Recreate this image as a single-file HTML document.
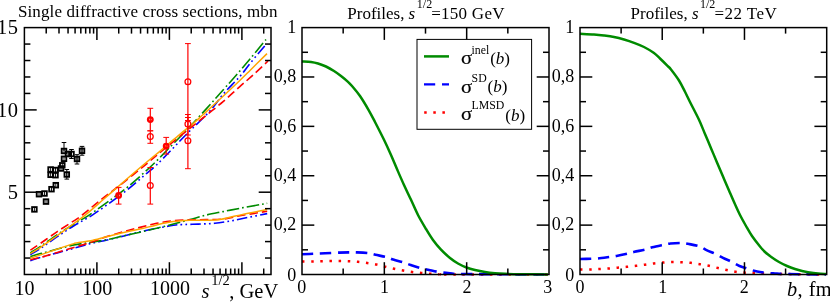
<!DOCTYPE html>
<html>
<head>
<meta charset="utf-8">
<title>Single diffractive cross sections and profiles</title>
<style>
html, body { margin: 0; padding: 0; background: #ffffff; }
body { width: 830px; height: 302px; overflow: hidden; }
svg { display: block; will-change: transform; }
svg text { font-family: "Liberation Serif", serif; fill: #000; }
</style>
</head>
<body>
<svg width="830" height="302" viewBox="0 0 830 302">
<rect x="0" y="0" width="830" height="302" fill="#ffffff"/>
<path d="M30.3,260.7 C32.02,260.15 36.1,258.7 40.6,257.4 C45.1,256.1 51.75,254.42 57.3,252.9 C62.85,251.38 68.37,249.85 73.9,248.3 C79.43,246.75 84.97,244.98 90.5,243.6 C96.03,242.22 101.55,241.27 107.1,240 C112.65,238.73 118.32,237.35 123.8,236 C129.28,234.65 134.53,233.18 140,231.9 C145.47,230.62 151.05,229.4 156.6,228.3 C162.15,227.2 169.13,225.92 173.3,225.3 C177.47,224.68 177.45,224.8 181.6,224.6 C185.75,224.4 192.67,224.32 198.2,224.1 C203.73,223.88 209.25,223.85 214.8,223.3 C220.35,222.75 225.95,221.78 231.5,220.8 C237.05,219.82 242.15,218.6 248.1,217.4 C254.05,216.2 264.02,214.23 267.2,213.6" fill="none" stroke="#0000ff" stroke-width="1.6" stroke-linecap="butt" stroke-linejoin="round" stroke-dasharray="10.5 3.2 1.7 3.2 1.7 3.2"/>
<path d="M30.3,254.6 C32.02,253.55 36.1,251.3 40.6,248.3 C45.1,245.3 51.75,240.35 57.3,236.6 C62.85,232.85 68,229.43 73.9,225.8 C79.8,222.17 86.42,218.83 92.7,214.8 C98.98,210.77 105.68,205.88 111.6,201.6 C117.52,197.32 122.67,193.53 128.2,189.1 C133.73,184.67 140.08,179.02 144.8,175 C149.52,170.98 152.03,169.22 156.5,165 C160.97,160.78 166.6,154.83 171.6,149.7 C176.6,144.57 180.27,140.48 186.5,134.2 C192.73,127.92 202.9,118.65 209,112 C215.1,105.35 217.97,100.22 223.1,94.3 C228.23,88.38 235.32,81.63 239.8,76.5 C244.28,71.37 245.8,68.65 250,63.5 C254.2,58.35 262.5,48.58 265,45.6" fill="none" stroke="#0000ff" stroke-width="1.6" stroke-linecap="butt" stroke-linejoin="round" stroke-dasharray="10.5 3.2 1.7 3.2 1.7 3.2"/>
<path d="M30.3,256.6 C32.02,256.1 36.1,254.85 40.6,253.6 C45.1,252.35 51.75,250.55 57.3,249.1 C62.85,247.65 68.37,246.02 73.9,244.9 C79.43,243.78 84.97,243.28 90.5,242.4 C96.03,241.52 101.55,240.7 107.1,239.6 C112.65,238.5 118.32,237.03 123.8,235.8 C129.28,234.57 134.53,233.45 140,232.2 C145.47,230.95 151.05,229.65 156.6,228.3 C162.15,226.95 167.75,225.55 173.3,224.1 C178.85,222.65 184.37,221.12 189.9,219.6 C195.43,218.08 200.97,216.33 206.5,215 C212.03,213.67 217.55,212.72 223.1,211.6 C228.65,210.48 234.25,209.35 239.8,208.3 C245.35,207.25 251.83,206.13 256.4,205.3 C260.97,204.47 265.4,203.63 267.2,203.3" fill="none" stroke="#008b00" stroke-width="1.6" stroke-linecap="butt" stroke-linejoin="round" stroke-dasharray="12.5 3 1.7 3"/>
<path d="M30.3,252.9 C32.02,251.8 36.1,249.35 40.6,246.3 C45.1,243.25 51.75,238.3 57.3,234.6 C62.85,230.9 68.53,227.4 73.9,224.1 C79.27,220.8 83.22,218.97 89.5,214.8 C95.78,210.63 105.15,203.8 111.6,199.1 C118.05,194.4 121.4,192.28 128.2,186.6 C135,180.92 145.17,171.85 152.4,165 C159.63,158.15 165.92,151.3 171.6,145.5 C177.28,139.7 180.68,136.35 186.5,130.2 C192.32,124.05 200.4,115.3 206.5,108.6 C212.6,101.9 218.12,95.6 223.1,90 C228.08,84.4 231.92,80.17 236.4,75 C240.88,69.83 245.07,64.92 250,59 C254.93,53.08 263.33,42.75 266,39.5" fill="none" stroke="#008b00" stroke-width="1.6" stroke-linecap="butt" stroke-linejoin="round" stroke-dasharray="12.5 3 1.7 3"/>
<path d="M30.3,259.6 C32.02,259.23 36.1,258.6 40.6,257.4 C45.1,256.2 51.75,254.07 57.3,252.4 C62.85,250.73 68.37,249.07 73.9,247.4 C79.43,245.73 84.97,244.2 90.5,242.4 C96.03,240.6 101.55,238.4 107.1,236.6 C112.65,234.8 118.32,233.13 123.8,231.6 C129.28,230.07 134.53,228.78 140,227.4 C145.47,226.02 151.05,224.4 156.6,223.3 C162.15,222.2 167.73,221.37 173.3,220.8 C178.87,220.23 184.47,220.1 190,219.9 C195.53,219.7 200.98,219.73 206.5,219.6 C212.02,219.47 217.55,219.73 223.1,219.1 C228.65,218.47 234.25,216.82 239.8,215.8 C245.35,214.78 251.83,213.75 256.4,213 C260.97,212.25 265.4,211.58 267.2,211.3" fill="none" stroke="#ff0000" stroke-width="1.6" stroke-linecap="butt" stroke-linejoin="round" stroke-dasharray="8.5 4"/>
<path d="M30.3,250.2 C32.02,249.05 36.1,246.4 40.6,243.3 C45.1,240.2 51.75,235.35 57.3,231.6 C62.85,227.85 69.75,223.57 73.9,220.8 C78.05,218.03 77.85,218.38 82.2,215 C86.55,211.62 93.7,205.47 100,200.5 C106.3,195.53 112.53,191.07 120,185.2 C127.47,179.33 137.3,171.42 144.8,165.3 C152.3,159.18 158.05,154.22 165,148.5 C171.95,142.78 179.87,136.33 186.5,131 C193.13,125.67 198.7,121.4 204.8,116.5 C210.9,111.6 217.27,106.58 223.1,101.6 C228.93,96.62 234.8,91.03 239.8,86.6 C244.8,82.17 248.4,79.27 253.1,75 C257.8,70.73 265.52,63.33 268,61" fill="none" stroke="#ff0000" stroke-width="1.6" stroke-linecap="butt" stroke-linejoin="round" stroke-dasharray="8.5 4"/>
<path d="M30.3,258.2 C32.02,257.65 36.1,256.42 40.6,254.9 C45.1,253.38 51.75,250.98 57.3,249.1 C62.85,247.22 70.3,244.72 73.9,243.6 C77.5,242.48 76.13,242.87 78.9,242.4 C81.67,241.93 85.8,241.77 90.5,240.8 C95.2,239.83 101.55,237.98 107.1,236.6 C112.65,235.22 118.32,233.75 123.8,232.5 C129.28,231.25 134.53,230.37 140,229.1 C145.47,227.83 151.05,226.15 156.6,224.9 C162.15,223.65 167.75,222.37 173.3,221.6 C178.85,220.83 184.37,220.52 189.9,220.3 C195.43,220.08 201.52,220.42 206.5,220.3 C211.48,220.18 215.37,220.22 219.8,219.6 C224.23,218.98 228.12,217.7 233.1,216.6 C238.08,215.5 244.02,214.17 249.7,213 C255.38,211.83 264.28,210.17 267.2,209.6" fill="none" stroke="#ffa500" stroke-width="1.5" stroke-linecap="butt" stroke-linejoin="round"/>
<path d="M30.3,253.6 C32.02,252.57 36.1,250.42 40.6,247.4 C45.1,244.38 51.75,239.48 57.3,235.5 C62.85,231.52 69.15,226.98 73.9,223.5 C78.65,220.02 80.9,218.6 85.8,214.6 C90.7,210.6 97.62,204.43 103.3,199.5 C108.98,194.57 113.25,190.75 119.9,185 C126.55,179.25 135.97,171.12 143.2,165 C150.43,158.88 157.18,153.42 163.3,148.3 C169.42,143.18 174.92,138.43 179.9,134.3 C184.88,130.17 189.32,126.8 193.2,123.5 C197.08,120.2 198.22,119.03 203.2,114.5 C208.18,109.97 217,101.97 223.1,96.3 C229.2,90.63 235.32,84.8 239.8,80.5 C244.28,76.2 245.47,74.98 250,70.5 C254.53,66.02 264.17,56.42 267,53.6" fill="none" stroke="#ffa500" stroke-width="1.5" stroke-linecap="butt" stroke-linejoin="round"/>
<line x1="34.4" y1="207.2" x2="34.4" y2="211.6" stroke="#000" stroke-width="0.9" />
<rect x="32.1" y="207.1" width="4.6" height="4.6" fill="none" stroke="#000" stroke-width="1.85"/>
<line x1="62.3" y1="163.1" x2="62.3" y2="167.5" stroke="#000" stroke-width="0.9" />
<rect x="60" y="163" width="4.6" height="4.6" fill="none" stroke="#000" stroke-width="1.85"/>
<line x1="39" y1="192" x2="39" y2="196.4" stroke="#000" stroke-width="0.9" />
<rect x="36.7" y="191.9" width="4.6" height="4.6" fill="none" stroke="#000" stroke-width="1.85"/>
<line x1="44.5" y1="191.3" x2="44.5" y2="195.7" stroke="#000" stroke-width="0.9" />
<rect x="42.2" y="191.2" width="4.6" height="4.6" fill="none" stroke="#000" stroke-width="1.85"/>
<line x1="46" y1="199.4" x2="46" y2="203.8" stroke="#000" stroke-width="0.9" />
<rect x="43.7" y="199.3" width="4.6" height="4.6" fill="none" stroke="#000" stroke-width="1.85"/>
<line x1="51.5" y1="187" x2="51.5" y2="191.4" stroke="#000" stroke-width="0.9" />
<rect x="49.2" y="186.9" width="4.6" height="4.6" fill="none" stroke="#000" stroke-width="1.85"/>
<line x1="55.8" y1="183" x2="55.8" y2="187.4" stroke="#000" stroke-width="0.9" />
<rect x="53.5" y="182.9" width="4.6" height="4.6" fill="none" stroke="#000" stroke-width="1.85"/>
<line x1="50.6" y1="167.3" x2="50.6" y2="171.7" stroke="#000" stroke-width="0.9" />
<rect x="48.3" y="167.2" width="4.6" height="4.6" fill="none" stroke="#000" stroke-width="1.85"/>
<line x1="50.6" y1="172.6" x2="50.6" y2="177" stroke="#000" stroke-width="0.9" />
<rect x="48.3" y="172.5" width="4.6" height="4.6" fill="none" stroke="#000" stroke-width="1.85"/>
<line x1="55.5" y1="167.8" x2="55.5" y2="172.2" stroke="#000" stroke-width="0.9" />
<rect x="53.2" y="167.7" width="4.6" height="4.6" fill="none" stroke="#000" stroke-width="1.85"/>
<line x1="55.5" y1="173" x2="55.5" y2="177.4" stroke="#000" stroke-width="0.9" />
<rect x="53.2" y="172.9" width="4.6" height="4.6" fill="none" stroke="#000" stroke-width="1.85"/>
<line x1="61" y1="166.3" x2="61" y2="170.7" stroke="#000" stroke-width="0.9" />
<rect x="58.7" y="166.2" width="4.6" height="4.6" fill="none" stroke="#000" stroke-width="1.85"/>
<line x1="66.8" y1="169.5" x2="66.8" y2="174.5" stroke="#000" stroke-width="1" />
<line x1="64.5" y1="169.5" x2="69.1" y2="169.5" stroke="#000" stroke-width="1" />
<line x1="66.8" y1="174.5" x2="66.8" y2="179.1" stroke="#000" stroke-width="1" />
<line x1="64.5" y1="179.1" x2="69.1" y2="179.1" stroke="#000" stroke-width="1" />
<line x1="66.8" y1="172.3" x2="66.8" y2="176.7" stroke="#000" stroke-width="0.9" />
<rect x="64.5" y="172.2" width="4.6" height="4.6" fill="none" stroke="#000" stroke-width="1.85"/>
<line x1="64" y1="142.5" x2="64" y2="151" stroke="#000" stroke-width="1" />
<line x1="61.7" y1="142.5" x2="66.3" y2="142.5" stroke="#000" stroke-width="1" />
<line x1="64" y1="148.8" x2="64" y2="153.2" stroke="#000" stroke-width="0.9" />
<rect x="61.7" y="148.7" width="4.6" height="4.6" fill="none" stroke="#000" stroke-width="1.85"/>
<line x1="64" y1="156.6" x2="64" y2="161" stroke="#000" stroke-width="0.9" />
<rect x="61.7" y="156.5" width="4.6" height="4.6" fill="none" stroke="#000" stroke-width="1.85"/>
<line x1="68" y1="151.8" x2="68" y2="156.2" stroke="#000" stroke-width="0.9" />
<rect x="65.7" y="151.7" width="4.6" height="4.6" fill="none" stroke="#000" stroke-width="1.85"/>
<line x1="71.5" y1="149.5" x2="71.5" y2="154" stroke="#000" stroke-width="1" />
<line x1="69.2" y1="149.5" x2="73.8" y2="149.5" stroke="#000" stroke-width="1" />
<line x1="71.5" y1="154" x2="71.5" y2="158.5" stroke="#000" stroke-width="1" />
<line x1="69.2" y1="158.5" x2="73.8" y2="158.5" stroke="#000" stroke-width="1" />
<line x1="71.5" y1="151.8" x2="71.5" y2="156.2" stroke="#000" stroke-width="0.9" />
<rect x="69.2" y="151.7" width="4.6" height="4.6" fill="none" stroke="#000" stroke-width="1.85"/>
<line x1="77" y1="154.7" x2="77" y2="159" stroke="#000" stroke-width="1" />
<line x1="74.7" y1="154.7" x2="79.3" y2="154.7" stroke="#000" stroke-width="1" />
<line x1="77" y1="159" x2="77" y2="164" stroke="#000" stroke-width="1" />
<line x1="74.7" y1="164" x2="79.3" y2="164" stroke="#000" stroke-width="1" />
<line x1="77" y1="156.8" x2="77" y2="161.2" stroke="#000" stroke-width="0.9" />
<rect x="74.7" y="156.7" width="4.6" height="4.6" fill="none" stroke="#000" stroke-width="1.85"/>
<line x1="82" y1="146.4" x2="82" y2="150.8" stroke="#000" stroke-width="1" />
<line x1="79.7" y1="146.4" x2="84.3" y2="146.4" stroke="#000" stroke-width="1" />
<line x1="82" y1="150.8" x2="82" y2="155.2" stroke="#000" stroke-width="1" />
<line x1="79.7" y1="155.2" x2="84.3" y2="155.2" stroke="#000" stroke-width="1" />
<line x1="82" y1="148.6" x2="82" y2="153" stroke="#000" stroke-width="0.9" />
<rect x="79.7" y="148.5" width="4.6" height="4.6" fill="none" stroke="#000" stroke-width="1.85"/>
<line x1="118.6" y1="187.4" x2="118.6" y2="204.1" stroke="#ff0000" stroke-width="1.2" />
<line x1="115.7" y1="187.4" x2="121.5" y2="187.4" stroke="#ff0000" stroke-width="1" />
<line x1="115.7" y1="204.1" x2="121.5" y2="204.1" stroke="#ff0000" stroke-width="1" />
<circle cx="118.6" cy="195.4" r="2.3" fill="none" stroke="#ff0000" stroke-width="2.3"/>
<line x1="150.3" y1="167.5" x2="150.3" y2="204.1" stroke="#ff0000" stroke-width="1.2" />
<line x1="147.4" y1="167.5" x2="153.2" y2="167.5" stroke="#ff0000" stroke-width="1" />
<line x1="147.4" y1="204.1" x2="153.2" y2="204.1" stroke="#ff0000" stroke-width="1" />
<circle cx="150.3" cy="185.5" r="2.9" fill="none" stroke="#ff0000" stroke-width="1.25"/>
<line x1="150.3" y1="108.3" x2="150.3" y2="130.8" stroke="#ff0000" stroke-width="1.2" />
<line x1="147.4" y1="108.3" x2="153.2" y2="108.3" stroke="#ff0000" stroke-width="1" />
<line x1="147.4" y1="130.8" x2="153.2" y2="130.8" stroke="#ff0000" stroke-width="1" />
<circle cx="150.3" cy="119.6" r="2.3" fill="none" stroke="#ff0000" stroke-width="2.3"/>
<line x1="150.3" y1="130.8" x2="150.3" y2="143.3" stroke="#ff0000" stroke-width="1.2" />
<line x1="147.4" y1="130.8" x2="153.2" y2="130.8" stroke="#ff0000" stroke-width="1" />
<line x1="147.4" y1="143.3" x2="153.2" y2="143.3" stroke="#ff0000" stroke-width="1" />
<circle cx="150.3" cy="136.6" r="2.9" fill="none" stroke="#ff0000" stroke-width="1.25"/>
<line x1="166.2" y1="137.4" x2="166.2" y2="154.1" stroke="#ff0000" stroke-width="1.2" />
<line x1="163.3" y1="137.4" x2="169.1" y2="137.4" stroke="#ff0000" stroke-width="1" />
<line x1="163.3" y1="154.1" x2="169.1" y2="154.1" stroke="#ff0000" stroke-width="1" />
<circle cx="166.2" cy="146.1" r="2.3" fill="none" stroke="#ff0000" stroke-width="2.3"/>
<line x1="187.9" y1="43.6" x2="187.9" y2="120.5" stroke="#ff0000" stroke-width="1.2" />
<line x1="185" y1="43.6" x2="190.8" y2="43.6" stroke="#ff0000" stroke-width="1" />
<line x1="185" y1="120.5" x2="190.8" y2="120.5" stroke="#ff0000" stroke-width="1" />
<circle cx="187.9" cy="81.7" r="2.9" fill="none" stroke="#ff0000" stroke-width="1.25"/>
<line x1="187.9" y1="114.5" x2="187.9" y2="135" stroke="#ff0000" stroke-width="1.2" />
<line x1="185" y1="114.5" x2="190.8" y2="114.5" stroke="#ff0000" stroke-width="1" />
<line x1="185" y1="135" x2="190.8" y2="135" stroke="#ff0000" stroke-width="1" />
<circle cx="187.9" cy="124.1" r="2.9" fill="none" stroke="#ff0000" stroke-width="1.25"/>
<line x1="187.9" y1="117.5" x2="187.9" y2="168.7" stroke="#ff0000" stroke-width="1.2" />
<line x1="185" y1="117.5" x2="190.8" y2="117.5" stroke="#ff0000" stroke-width="1" />
<line x1="185" y1="168.7" x2="190.8" y2="168.7" stroke="#ff0000" stroke-width="1" />
<circle cx="187.9" cy="140.8" r="2.9" fill="none" stroke="#ff0000" stroke-width="1.25"/>
<rect x="24.4" y="27.6" width="246.6" height="246.9" fill="none" stroke="#000" stroke-width="1.5"/>
<line x1="46.22" y1="274.5" x2="46.22" y2="268.5" stroke="#000" stroke-width="1.5" />
<line x1="46.22" y1="27.6" x2="46.22" y2="33.6" stroke="#000" stroke-width="1.5" />
<line x1="58.99" y1="274.5" x2="58.99" y2="268.5" stroke="#000" stroke-width="1.5" />
<line x1="58.99" y1="27.6" x2="58.99" y2="33.6" stroke="#000" stroke-width="1.5" />
<line x1="68.05" y1="274.5" x2="68.05" y2="268.5" stroke="#000" stroke-width="1.5" />
<line x1="68.05" y1="27.6" x2="68.05" y2="33.6" stroke="#000" stroke-width="1.5" />
<line x1="75.08" y1="274.5" x2="75.08" y2="268.5" stroke="#000" stroke-width="1.5" />
<line x1="75.08" y1="27.6" x2="75.08" y2="33.6" stroke="#000" stroke-width="1.5" />
<line x1="80.82" y1="274.5" x2="80.82" y2="268.5" stroke="#000" stroke-width="1.5" />
<line x1="80.82" y1="27.6" x2="80.82" y2="33.6" stroke="#000" stroke-width="1.5" />
<line x1="85.67" y1="274.5" x2="85.67" y2="268.5" stroke="#000" stroke-width="1.5" />
<line x1="85.67" y1="27.6" x2="85.67" y2="33.6" stroke="#000" stroke-width="1.5" />
<line x1="89.87" y1="274.5" x2="89.87" y2="268.5" stroke="#000" stroke-width="1.5" />
<line x1="89.87" y1="27.6" x2="89.87" y2="33.6" stroke="#000" stroke-width="1.5" />
<line x1="93.58" y1="274.5" x2="93.58" y2="268.5" stroke="#000" stroke-width="1.5" />
<line x1="93.58" y1="27.6" x2="93.58" y2="33.6" stroke="#000" stroke-width="1.5" />
<line x1="96.9" y1="274.5" x2="96.9" y2="262.2" stroke="#000" stroke-width="1.5" />
<line x1="96.9" y1="27.6" x2="96.9" y2="39.9" stroke="#000" stroke-width="1.5" />
<line x1="118.72" y1="274.5" x2="118.72" y2="268.5" stroke="#000" stroke-width="1.5" />
<line x1="118.72" y1="27.6" x2="118.72" y2="33.6" stroke="#000" stroke-width="1.5" />
<line x1="131.49" y1="274.5" x2="131.49" y2="268.5" stroke="#000" stroke-width="1.5" />
<line x1="131.49" y1="27.6" x2="131.49" y2="33.6" stroke="#000" stroke-width="1.5" />
<line x1="140.55" y1="274.5" x2="140.55" y2="268.5" stroke="#000" stroke-width="1.5" />
<line x1="140.55" y1="27.6" x2="140.55" y2="33.6" stroke="#000" stroke-width="1.5" />
<line x1="147.58" y1="274.5" x2="147.58" y2="268.5" stroke="#000" stroke-width="1.5" />
<line x1="147.58" y1="27.6" x2="147.58" y2="33.6" stroke="#000" stroke-width="1.5" />
<line x1="153.32" y1="274.5" x2="153.32" y2="268.5" stroke="#000" stroke-width="1.5" />
<line x1="153.32" y1="27.6" x2="153.32" y2="33.6" stroke="#000" stroke-width="1.5" />
<line x1="158.17" y1="274.5" x2="158.17" y2="268.5" stroke="#000" stroke-width="1.5" />
<line x1="158.17" y1="27.6" x2="158.17" y2="33.6" stroke="#000" stroke-width="1.5" />
<line x1="162.37" y1="274.5" x2="162.37" y2="268.5" stroke="#000" stroke-width="1.5" />
<line x1="162.37" y1="27.6" x2="162.37" y2="33.6" stroke="#000" stroke-width="1.5" />
<line x1="166.08" y1="274.5" x2="166.08" y2="268.5" stroke="#000" stroke-width="1.5" />
<line x1="166.08" y1="27.6" x2="166.08" y2="33.6" stroke="#000" stroke-width="1.5" />
<line x1="169.4" y1="274.5" x2="169.4" y2="262.2" stroke="#000" stroke-width="1.5" />
<line x1="169.4" y1="27.6" x2="169.4" y2="39.9" stroke="#000" stroke-width="1.5" />
<line x1="191.22" y1="274.5" x2="191.22" y2="268.5" stroke="#000" stroke-width="1.5" />
<line x1="191.22" y1="27.6" x2="191.22" y2="33.6" stroke="#000" stroke-width="1.5" />
<line x1="203.99" y1="274.5" x2="203.99" y2="268.5" stroke="#000" stroke-width="1.5" />
<line x1="203.99" y1="27.6" x2="203.99" y2="33.6" stroke="#000" stroke-width="1.5" />
<line x1="213.05" y1="274.5" x2="213.05" y2="268.5" stroke="#000" stroke-width="1.5" />
<line x1="213.05" y1="27.6" x2="213.05" y2="33.6" stroke="#000" stroke-width="1.5" />
<line x1="220.08" y1="274.5" x2="220.08" y2="268.5" stroke="#000" stroke-width="1.5" />
<line x1="220.08" y1="27.6" x2="220.08" y2="33.6" stroke="#000" stroke-width="1.5" />
<line x1="225.82" y1="274.5" x2="225.82" y2="268.5" stroke="#000" stroke-width="1.5" />
<line x1="225.82" y1="27.6" x2="225.82" y2="33.6" stroke="#000" stroke-width="1.5" />
<line x1="230.67" y1="274.5" x2="230.67" y2="268.5" stroke="#000" stroke-width="1.5" />
<line x1="230.67" y1="27.6" x2="230.67" y2="33.6" stroke="#000" stroke-width="1.5" />
<line x1="234.87" y1="274.5" x2="234.87" y2="268.5" stroke="#000" stroke-width="1.5" />
<line x1="234.87" y1="27.6" x2="234.87" y2="33.6" stroke="#000" stroke-width="1.5" />
<line x1="238.58" y1="274.5" x2="238.58" y2="268.5" stroke="#000" stroke-width="1.5" />
<line x1="238.58" y1="27.6" x2="238.58" y2="33.6" stroke="#000" stroke-width="1.5" />
<line x1="241.9" y1="274.5" x2="241.9" y2="262.2" stroke="#000" stroke-width="1.5" />
<line x1="241.9" y1="27.6" x2="241.9" y2="39.9" stroke="#000" stroke-width="1.5" />
<line x1="263.72" y1="274.5" x2="263.72" y2="268.5" stroke="#000" stroke-width="1.5" />
<line x1="263.72" y1="27.6" x2="263.72" y2="33.6" stroke="#000" stroke-width="1.5" />
<line x1="24.4" y1="258.04" x2="30.4" y2="258.04" stroke="#000" stroke-width="1.5" />
<line x1="271" y1="258.04" x2="265" y2="258.04" stroke="#000" stroke-width="1.5" />
<line x1="24.4" y1="241.58" x2="30.4" y2="241.58" stroke="#000" stroke-width="1.5" />
<line x1="271" y1="241.58" x2="265" y2="241.58" stroke="#000" stroke-width="1.5" />
<line x1="24.4" y1="225.12" x2="30.4" y2="225.12" stroke="#000" stroke-width="1.5" />
<line x1="271" y1="225.12" x2="265" y2="225.12" stroke="#000" stroke-width="1.5" />
<line x1="24.4" y1="208.66" x2="30.4" y2="208.66" stroke="#000" stroke-width="1.5" />
<line x1="271" y1="208.66" x2="265" y2="208.66" stroke="#000" stroke-width="1.5" />
<line x1="24.4" y1="192.2" x2="36.7" y2="192.2" stroke="#000" stroke-width="1.5" />
<line x1="271" y1="192.2" x2="258.7" y2="192.2" stroke="#000" stroke-width="1.5" />
<line x1="24.4" y1="175.74" x2="30.4" y2="175.74" stroke="#000" stroke-width="1.5" />
<line x1="271" y1="175.74" x2="265" y2="175.74" stroke="#000" stroke-width="1.5" />
<line x1="24.4" y1="159.28" x2="30.4" y2="159.28" stroke="#000" stroke-width="1.5" />
<line x1="271" y1="159.28" x2="265" y2="159.28" stroke="#000" stroke-width="1.5" />
<line x1="24.4" y1="142.82" x2="30.4" y2="142.82" stroke="#000" stroke-width="1.5" />
<line x1="271" y1="142.82" x2="265" y2="142.82" stroke="#000" stroke-width="1.5" />
<line x1="24.4" y1="126.36" x2="30.4" y2="126.36" stroke="#000" stroke-width="1.5" />
<line x1="271" y1="126.36" x2="265" y2="126.36" stroke="#000" stroke-width="1.5" />
<line x1="24.4" y1="109.9" x2="36.7" y2="109.9" stroke="#000" stroke-width="1.5" />
<line x1="271" y1="109.9" x2="258.7" y2="109.9" stroke="#000" stroke-width="1.5" />
<line x1="24.4" y1="93.44" x2="30.4" y2="93.44" stroke="#000" stroke-width="1.5" />
<line x1="271" y1="93.44" x2="265" y2="93.44" stroke="#000" stroke-width="1.5" />
<line x1="24.4" y1="76.98" x2="30.4" y2="76.98" stroke="#000" stroke-width="1.5" />
<line x1="271" y1="76.98" x2="265" y2="76.98" stroke="#000" stroke-width="1.5" />
<line x1="24.4" y1="60.52" x2="30.4" y2="60.52" stroke="#000" stroke-width="1.5" />
<line x1="271" y1="60.52" x2="265" y2="60.52" stroke="#000" stroke-width="1.5" />
<line x1="24.4" y1="44.06" x2="30.4" y2="44.06" stroke="#000" stroke-width="1.5" />
<line x1="271" y1="44.06" x2="265" y2="44.06" stroke="#000" stroke-width="1.5" />
<text x="18.3" y="34.4" font-size="20.5" text-anchor="end" letter-spacing="0.4">15</text>
<text x="18.3" y="116.8" font-size="20.5" text-anchor="end" letter-spacing="0.4">10</text>
<text x="17.9" y="199.1" font-size="20.5" text-anchor="end" >5</text>
<text x="24.6" y="294.5" font-size="20" text-anchor="middle" >10</text>
<text x="97.2" y="294.5" font-size="20" text-anchor="middle" >100</text>
<text x="170" y="294.5" font-size="20" text-anchor="middle" >1000</text>
<text x="17.9" y="17.2" font-size="17" text-anchor="start" letter-spacing="0.12">Single diffractive cross sections, mbn</text>
<text x="201.6" y="297.5" font-size="20.5" text-anchor="start" font-style="italic">s</text>
<text x="211.2" y="284.9" font-size="14.5" text-anchor="start" >1/2</text>
<text x="229.3" y="297.5" font-size="20.5" text-anchor="start" >, GeV</text>
<path d="M302,261.5 C303.7,261.5 309,261.55 312.2,261.5 C315.4,261.45 318.15,261.28 321.2,261.2 C324.25,261.12 327.4,261.03 330.5,261 C333.6,260.97 336.72,260.97 339.8,261 C342.88,261.03 345.97,261.07 349,261.2 C352.03,261.33 354.97,261.5 358,261.8 C361.03,262.1 364.13,262.55 367.2,263 C370.27,263.45 373.4,263.88 376.4,264.5 C379.4,265.12 382.23,265.98 385.2,266.7 C388.17,267.42 391.2,268.17 394.2,268.8 C397.2,269.43 400.2,269.97 403.2,270.5 C406.2,271.03 409.15,271.58 412.2,272 C415.25,272.42 418.45,272.7 421.5,273 C424.55,273.3 427.47,273.58 430.5,273.8 C433.53,274.02 436.62,274.18 439.7,274.3 C442.78,274.42 430.95,274.47 449,274.5 C467.05,274.53 531.5,274.5 548,274.5" fill="none" stroke="#ff0000" stroke-width="2.5" stroke-linecap="butt" stroke-linejoin="round" stroke-dasharray="2.5 6.65"/>
<path d="M302,254.2 C303.83,254.13 309.17,253.95 313,253.8 C316.83,253.65 320.67,253.5 325,253.3 C329.33,253.1 334.83,252.75 339,252.6 C343.17,252.45 347,252.43 350,252.4 C353,252.37 353.92,252.27 357,252.4 C360.08,252.53 365.42,252.8 368.5,253.2 C371.58,253.6 372.42,254.13 375.5,254.8 C378.58,255.47 384.05,256.42 387,257.2 C389.95,257.98 390.28,258.57 393.2,259.5 C396.12,260.43 401.57,261.88 404.5,262.8 C407.43,263.72 407.88,264.05 410.8,265 C413.72,265.95 418.97,267.67 422,268.5 C425.03,269.33 426,269.38 429,270 C432,270.62 436.5,271.67 440,272.2 C443.5,272.73 445.83,272.9 450,273.2 C454.17,273.5 448.67,273.78 465,274 C481.33,274.22 534.17,274.42 548,274.5" fill="none" stroke="#0000ff" stroke-width="2.6" stroke-linecap="butt" stroke-linejoin="round" stroke-dasharray="11.2 6.8"/>
<path d="M302,61.4 C303.5,61.5 308.33,61.65 311,62 C313.67,62.35 315.5,62.75 318,63.5 C320.5,64.25 323.33,65.25 326,66.5 C328.67,67.75 331.5,69.42 334,71 C336.5,72.58 338.67,74.2 341,76 C343.33,77.8 346.17,80.13 348,81.8 C349.83,83.47 350,83.63 352,86 C354,88.37 357.25,92.03 360,96 C362.75,99.97 366,105.47 368.5,109.8 C371,114.13 372.42,117 375,122 C377.58,127 381.33,134.3 384,139.8 C386.67,145.3 388.78,150 391,155 C393.22,160 395.13,164.8 397.3,169.8 C399.47,174.8 401.72,180 404,185 C406.28,190 408.67,194.8 411,199.8 C413.33,204.8 415.5,210.13 418,215 C420.5,219.87 423.5,224.83 426,229 C428.5,233.17 430.5,236.55 433,240 C435.5,243.45 438.17,246.7 441,249.7 C443.83,252.7 447.17,255.7 450,258 C452.83,260.3 455.25,261.92 458,263.5 C460.75,265.08 463.67,266.42 466.5,267.5 C469.33,268.58 471.92,269.25 475,270 C478.08,270.75 481.67,271.47 485,272 C488.33,272.53 491.67,272.9 495,273.2 C498.33,273.5 500.83,273.63 505,273.8 C509.17,273.97 512.83,274.08 520,274.2 C527.17,274.32 543.33,274.45 548,274.5" fill="none" stroke="#008b00" stroke-width="2.5" stroke-linecap="butt" stroke-linejoin="round"/>
<rect x="302" y="27.6" width="247" height="246.9" fill="none" stroke="#000" stroke-width="1.5"/>
<line x1="343.17" y1="274.5" x2="343.17" y2="268.5" stroke="#000" stroke-width="1.5" />
<line x1="343.17" y1="27.6" x2="343.17" y2="33.6" stroke="#000" stroke-width="1.5" />
<line x1="384.33" y1="274.5" x2="384.33" y2="262.2" stroke="#000" stroke-width="1.5" />
<line x1="384.33" y1="27.6" x2="384.33" y2="39.9" stroke="#000" stroke-width="1.5" />
<line x1="425.5" y1="274.5" x2="425.5" y2="268.5" stroke="#000" stroke-width="1.5" />
<line x1="425.5" y1="27.6" x2="425.5" y2="33.6" stroke="#000" stroke-width="1.5" />
<line x1="466.67" y1="274.5" x2="466.67" y2="262.2" stroke="#000" stroke-width="1.5" />
<line x1="466.67" y1="27.6" x2="466.67" y2="39.9" stroke="#000" stroke-width="1.5" />
<line x1="507.83" y1="274.5" x2="507.83" y2="268.5" stroke="#000" stroke-width="1.5" />
<line x1="507.83" y1="27.6" x2="507.83" y2="33.6" stroke="#000" stroke-width="1.5" />
<line x1="302" y1="249.81" x2="308" y2="249.81" stroke="#000" stroke-width="1.5" />
<line x1="549" y1="249.81" x2="543" y2="249.81" stroke="#000" stroke-width="1.5" />
<line x1="302" y1="225.12" x2="314.3" y2="225.12" stroke="#000" stroke-width="1.5" />
<line x1="549" y1="225.12" x2="536.7" y2="225.12" stroke="#000" stroke-width="1.5" />
<line x1="302" y1="200.43" x2="308" y2="200.43" stroke="#000" stroke-width="1.5" />
<line x1="549" y1="200.43" x2="543" y2="200.43" stroke="#000" stroke-width="1.5" />
<line x1="302" y1="175.74" x2="314.3" y2="175.74" stroke="#000" stroke-width="1.5" />
<line x1="549" y1="175.74" x2="536.7" y2="175.74" stroke="#000" stroke-width="1.5" />
<line x1="302" y1="151.05" x2="308" y2="151.05" stroke="#000" stroke-width="1.5" />
<line x1="549" y1="151.05" x2="543" y2="151.05" stroke="#000" stroke-width="1.5" />
<line x1="302" y1="126.36" x2="314.3" y2="126.36" stroke="#000" stroke-width="1.5" />
<line x1="549" y1="126.36" x2="536.7" y2="126.36" stroke="#000" stroke-width="1.5" />
<line x1="302" y1="101.67" x2="308" y2="101.67" stroke="#000" stroke-width="1.5" />
<line x1="549" y1="101.67" x2="543" y2="101.67" stroke="#000" stroke-width="1.5" />
<line x1="302" y1="76.98" x2="314.3" y2="76.98" stroke="#000" stroke-width="1.5" />
<line x1="549" y1="76.98" x2="536.7" y2="76.98" stroke="#000" stroke-width="1.5" />
<line x1="302" y1="52.29" x2="308" y2="52.29" stroke="#000" stroke-width="1.5" />
<line x1="549" y1="52.29" x2="543" y2="52.29" stroke="#000" stroke-width="1.5" />
<text x="296.3" y="280.6" font-size="18" text-anchor="end" >0</text>
<text x="296.3" y="230.42" font-size="18" text-anchor="end" >0,2</text>
<text x="296.3" y="181.04" font-size="18" text-anchor="end" >0,4</text>
<text x="296.3" y="131.66" font-size="18" text-anchor="end" >0,6</text>
<text x="296.3" y="82.28" font-size="18" text-anchor="end" >0,8</text>
<text x="296.3" y="32.9" font-size="18" text-anchor="end" >1</text>
<text x="301.8" y="292.8" font-size="18" text-anchor="middle" >0</text>
<text x="384.6" y="292.8" font-size="18" text-anchor="middle" >1</text>
<text x="466.9" y="292.8" font-size="18" text-anchor="middle" >2</text>
<text x="547.8" y="292.8" font-size="18" text-anchor="middle" >3</text>
<text x="347.3" y="19" font-size="17" text-anchor="start" >Profiles,</text>
<text x="408.4" y="19" font-size="17" text-anchor="start" font-style="italic">s</text>
<text x="416.8" y="8.3" font-size="12" text-anchor="start" >1/2</text>
<text x="431.2" y="19" font-size="17" text-anchor="start" letter-spacing="0.27">=150 GeV</text>
<rect x="417" y="39.4" width="114.6" height="89.9" fill="#fff" stroke="#000" stroke-width="1"/>
<line x1="424" y1="56.4" x2="449" y2="56.4" stroke="#008b00" stroke-width="2.5" />
<line x1="424" y1="84.4" x2="449" y2="84.4" stroke="#0000ff" stroke-width="2.4" stroke-dasharray="11.2 6.8"/>
<line x1="424.2" y1="112.4" x2="449" y2="112.4" stroke="#ff0000" stroke-width="2.5" stroke-dasharray="2.5 6.6"/>
<text x="0" y="0" font-size="20" stroke="#000" stroke-width="0.2" transform="translate(461.1 64.4) scale(1.04 0.92)">σ</text>
<text x="471.6" y="53.6" font-size="11.8" text-anchor="start" >inel</text>
<text x="490.2" y="63.8" font-size="17">(<tspan font-style="italic">b</tspan>)</text>
<text x="0" y="0" font-size="20" stroke="#000" stroke-width="0.2" transform="translate(461.1 92.6) scale(1.04 0.92)">σ</text>
<text x="471.6" y="81.8" font-size="11.8" text-anchor="start" >SD</text>
<text x="487.5" y="92" font-size="17">(<tspan font-style="italic">b</tspan>)</text>
<text x="0" y="0" font-size="20" stroke="#000" stroke-width="0.2" transform="translate(461.1 120.2) scale(1.04 0.92)">σ</text>
<text x="471.6" y="109.4" font-size="11.8" text-anchor="start" >LMSD</text>
<text x="505.3" y="120.8" font-size="17">(<tspan font-style="italic">b</tspan>)</text>
<path d="M580,269.5 C581.67,269.5 586.8,269.58 590,269.5 C593.2,269.42 596.12,269.17 599.2,269 C602.28,268.83 605.45,268.72 608.5,268.5 C611.55,268.28 614.47,267.98 617.5,267.7 C620.53,267.42 623.62,267.12 626.7,266.8 C629.78,266.48 632.95,266.15 636,265.8 C639.05,265.45 642,265.1 645,264.7 C648,264.3 650.97,263.77 654,263.4 C657.03,263.03 660.17,262.73 663.2,262.5 C666.23,262.27 669.15,262.05 672.2,262 C675.25,261.95 678.42,262.07 681.5,262.2 C684.58,262.33 687.65,262.47 690.7,262.8 C693.75,263.13 696.75,263.7 699.8,264.2 C702.85,264.7 705.97,265.17 709,265.8 C712.03,266.43 715.03,267.3 718,268 C720.97,268.7 723.83,269.37 726.8,270 C729.77,270.63 732.77,271.35 735.8,271.8 C738.83,272.25 741.97,272.5 745,272.7 C748.03,272.9 750.97,272.88 754,273 C757.03,273.12 758.87,273.23 763.2,273.4 C767.53,273.57 769.53,273.82 780,274 C790.47,274.18 818.33,274.42 826,274.5" fill="none" stroke="#ff0000" stroke-width="2.5" stroke-linecap="butt" stroke-linejoin="round" stroke-dasharray="2.5 6.65"/>
<path d="M580,259 C581.83,258.97 588,258.88 591,258.8 C594,258.72 594.92,258.8 598,258.5 C601.08,258.2 606.42,257.42 609.5,257 C612.58,256.58 613.42,256.58 616.5,256 C619.58,255.42 625,254.2 628,253.5 C631,252.8 631.58,252.47 634.5,251.8 C637.42,251.13 642.53,250.27 645.5,249.5 C648.47,248.73 649.3,247.98 652.3,247.2 C655.3,246.42 660.47,245.42 663.5,244.8 C666.53,244.18 667.45,243.8 670.5,243.5 C673.55,243.2 678.72,242.92 681.8,243 C684.88,243.08 685.97,243.42 689,244 C692.03,244.58 697.17,245.53 700,246.5 C702.83,247.47 703.2,248.47 706,249.8 C708.8,251.13 713.97,253.17 716.8,254.5 C719.63,255.83 720.3,256.47 723,257.8 C725.7,259.13 730.25,261.13 733,262.5 C735.75,263.87 736.67,264.83 739.5,266 C742.33,267.17 747.05,268.58 750,269.5 C752.95,270.42 754.2,270.92 757.2,271.5 C760.2,272.08 765.03,272.67 768,273 C770.97,273.33 772,273.33 775,273.5 C778,273.67 777.5,273.83 786,274 C794.5,274.17 819.33,274.42 826,274.5" fill="none" stroke="#0000ff" stroke-width="2.6" stroke-linecap="butt" stroke-linejoin="round" stroke-dasharray="11.2 6.8"/>
<path d="M580,33.8 C582.33,33.92 590,34.22 594,34.5 C598,34.78 600.67,35.08 604,35.5 C607.33,35.92 610.67,36.33 614,37 C617.33,37.67 620.67,38.53 624,39.5 C627.33,40.47 630.67,41.55 634,42.8 C637.33,44.05 640.67,45.3 644,47 C647.33,48.7 651.33,51.08 654,53 C656.67,54.92 657.75,56.37 660,58.5 C662.25,60.63 665.67,63.97 667.5,65.8 C669.33,67.63 669.08,67.05 671,69.5 C672.92,71.95 676.67,76.78 679,80.5 C681.33,84.22 683.17,88.22 685,91.8 C686.83,95.38 687.67,97.33 690,102 C692.33,106.67 696.5,114.47 699,119.8 C701.5,125.13 703,129.27 705,134 C707,138.73 709,143.47 711,148.2 C713,152.93 715,157.68 717,162.4 C719,167.12 721,171.82 723,176.5 C725,181.18 727.03,185.95 729,190.5 C730.97,195.05 732.97,199.72 734.8,203.8 C736.63,207.88 738.13,211.3 740,215 C741.87,218.7 744,222.5 746,226 C748,229.5 749.67,232.58 752,236 C754.33,239.42 757.83,243.83 760,246.5 C762.17,249.17 763,250.17 765,252 C767,253.83 769.67,255.83 772,257.5 C774.33,259.17 776.5,260.58 779,262 C781.5,263.42 784.33,264.83 787,266 C789.67,267.17 792.33,268.13 795,269 C797.67,269.87 800.83,270.67 803,271.2 C805.17,271.73 805.5,271.82 808,272.2 C810.5,272.58 815,273.2 818,273.5 C821,273.8 824.67,273.92 826,274" fill="none" stroke="#008b00" stroke-width="2.5" stroke-linecap="butt" stroke-linejoin="round"/>
<rect x="580" y="27.6" width="246.7" height="246.9" fill="none" stroke="#000" stroke-width="1.5"/>
<line x1="621.12" y1="274.5" x2="621.12" y2="268.5" stroke="#000" stroke-width="1.5" />
<line x1="621.12" y1="27.6" x2="621.12" y2="33.6" stroke="#000" stroke-width="1.5" />
<line x1="662.23" y1="274.5" x2="662.23" y2="262.2" stroke="#000" stroke-width="1.5" />
<line x1="662.23" y1="27.6" x2="662.23" y2="39.9" stroke="#000" stroke-width="1.5" />
<line x1="703.35" y1="274.5" x2="703.35" y2="268.5" stroke="#000" stroke-width="1.5" />
<line x1="703.35" y1="27.6" x2="703.35" y2="33.6" stroke="#000" stroke-width="1.5" />
<line x1="744.47" y1="274.5" x2="744.47" y2="262.2" stroke="#000" stroke-width="1.5" />
<line x1="744.47" y1="27.6" x2="744.47" y2="39.9" stroke="#000" stroke-width="1.5" />
<line x1="785.58" y1="274.5" x2="785.58" y2="268.5" stroke="#000" stroke-width="1.5" />
<line x1="785.58" y1="27.6" x2="785.58" y2="33.6" stroke="#000" stroke-width="1.5" />
<line x1="580" y1="249.81" x2="586" y2="249.81" stroke="#000" stroke-width="1.5" />
<line x1="826.7" y1="249.81" x2="820.7" y2="249.81" stroke="#000" stroke-width="1.5" />
<line x1="580" y1="225.12" x2="592.3" y2="225.12" stroke="#000" stroke-width="1.5" />
<line x1="826.7" y1="225.12" x2="814.4" y2="225.12" stroke="#000" stroke-width="1.5" />
<line x1="580" y1="200.43" x2="586" y2="200.43" stroke="#000" stroke-width="1.5" />
<line x1="826.7" y1="200.43" x2="820.7" y2="200.43" stroke="#000" stroke-width="1.5" />
<line x1="580" y1="175.74" x2="592.3" y2="175.74" stroke="#000" stroke-width="1.5" />
<line x1="826.7" y1="175.74" x2="814.4" y2="175.74" stroke="#000" stroke-width="1.5" />
<line x1="580" y1="151.05" x2="586" y2="151.05" stroke="#000" stroke-width="1.5" />
<line x1="826.7" y1="151.05" x2="820.7" y2="151.05" stroke="#000" stroke-width="1.5" />
<line x1="580" y1="126.36" x2="592.3" y2="126.36" stroke="#000" stroke-width="1.5" />
<line x1="826.7" y1="126.36" x2="814.4" y2="126.36" stroke="#000" stroke-width="1.5" />
<line x1="580" y1="101.67" x2="586" y2="101.67" stroke="#000" stroke-width="1.5" />
<line x1="826.7" y1="101.67" x2="820.7" y2="101.67" stroke="#000" stroke-width="1.5" />
<line x1="580" y1="76.98" x2="592.3" y2="76.98" stroke="#000" stroke-width="1.5" />
<line x1="826.7" y1="76.98" x2="814.4" y2="76.98" stroke="#000" stroke-width="1.5" />
<line x1="580" y1="52.29" x2="586" y2="52.29" stroke="#000" stroke-width="1.5" />
<line x1="826.7" y1="52.29" x2="820.7" y2="52.29" stroke="#000" stroke-width="1.5" />
<text x="574.3" y="280.6" font-size="18" text-anchor="end" >0</text>
<text x="574.3" y="230.42" font-size="18" text-anchor="end" >0,2</text>
<text x="574.3" y="181.04" font-size="18" text-anchor="end" >0,4</text>
<text x="574.3" y="131.66" font-size="18" text-anchor="end" >0,6</text>
<text x="574.3" y="82.28" font-size="18" text-anchor="end" >0,8</text>
<text x="574.3" y="32.9" font-size="18" text-anchor="end" >1</text>
<text x="580" y="292.8" font-size="18" text-anchor="middle" >0</text>
<text x="662.8" y="292.8" font-size="18" text-anchor="middle" >1</text>
<text x="744.2" y="292.8" font-size="18" text-anchor="middle" >2</text>
<text x="787" y="296.0" font-size="20.3" letter-spacing="0.45"><tspan font-style="italic">b</tspan>, fm</text>
<text x="630.6" y="19" font-size="17" text-anchor="start" >Profiles,</text>
<text x="691.9" y="19" font-size="17" text-anchor="start" font-style="italic">s</text>
<text x="700" y="8.3" font-size="12" text-anchor="start" >1/2</text>
<text x="714.5" y="19" font-size="17" text-anchor="start" letter-spacing="0.45">=22 TeV</text>
</svg>
</body>
</html>
